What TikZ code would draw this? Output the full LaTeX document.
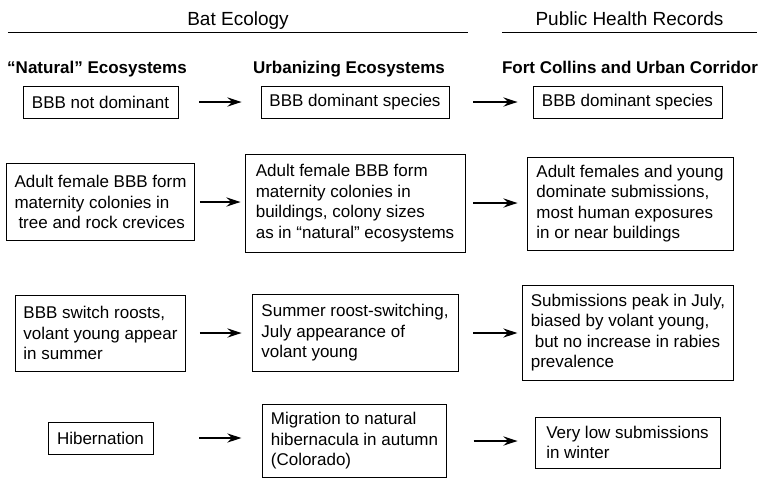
\documentclass[tikz,border=0pt]{standalone}
\usepackage{fontspec}
\setmainfont{Liberation Sans}
\usetikzlibrary{arrows.meta}

\begin{document}
\begin{tikzpicture}[x=1pt,y=-1pt,
  box/.style={draw,line width=0.8pt,align=left,inner xsep=8pt,inner ysep=6pt,font=\fontsize{17}{20.5}\selectfont},
  head/.style={font=\fontsize{19}{22}\selectfont,text height=14pt,text depth=4pt,inner ysep=3pt,anchor=base},
  colhead/.style={font=\bfseries\fontsize{17}{20}\selectfont,anchor=base},
  arr/.style={-{Stealth[length=14pt,width=9pt,inset=4.5pt]},line width=2.5pt}]
\useasboundingbox (0,0) rectangle (760,480);

\node[head,minimum width=460pt] (bat) at (238,25) {Bat Ecology};
\node[head,minimum width=255pt] (phr) at (629.5,25) {Public Health Records};
\draw[line width=1pt] (bat.south west) -- (bat.south east);
\draw[line width=1pt] (phr.south west) -- (phr.south east);

\node[colhead] (natural) at (97,73) {“Natural” Ecosystems};
\node[colhead] (urban) at (349,73) {Urbanizing Ecosystems};
\node[colhead] (fortc) at (630,73) {Fort Collins and Urban Corridor};

% row 1
\node[box,minimum width=155pt,minimum height=32pt] (nat1) at (100.5,102) {BBB not dominant};
\node[box,minimum width=188pt,minimum height=32pt] (urb1) at (355,102) {BBB dominant species};
\node[box,minimum width=189pt,minimum height=32pt] (rec1) at (627.5,102) {BBB dominant species};
% row 2
\node[box,minimum width=187pt,minimum height=77pt] (nat2) at (100.5,202) {Adult female BBB form\\maternity colonies in\\\hspace*{4pt}tree and rock crevices};
\node[box,minimum width=220pt,minimum height=98pt] (urb2) at (355,203) {Adult female BBB form\\maternity colonies in\\buildings, colony sizes\\as in “natural” ecosystems};
\node[box,minimum width=206pt,minimum height=93pt] (rec2) at (630,203.5) {Adult females and young\\dominate submissions,\\most human exposures\\in or near buildings};
% row 3
\node[box,minimum width=169pt,minimum height=76pt] (nat3) at (100.5,333) {BBB switch roosts,\\volant young appear\\in summer};
\node[box,minimum width=206pt,minimum height=77pt] (urb3) at (355,333) {Summer roost-switching,\\July appearance of\\volant young};
\node[box,minimum width=210pt,minimum height=95pt] (rec3) at (628,332.5) {Submissions peak in July,\\biased by volant young,\\\hspace*{4pt}but no increase in rabies\\prevalence};
% row 4
\node[box,minimum width=105pt,minimum height=32pt] (nat4) at (100.5,438) {Hibernation};
\node[box,minimum width=183pt,minimum height=73pt] (urb4) at (354.5,441) {Migration to natural\\hibernacula in autumn\\(Colorado)};
\node[box,minimum width=185pt,minimum height=51pt] (rec4) at (627.5,442.5) {Very low submissions\\in winter};

\draw[arr,shorten <=21pt,shorten >=19pt] (nat1.east) -- (nat1.east -| urb1.west);
\draw[arr,shorten <=24pt,shorten >=15pt] (urb1.east) -- (urb1.east -| rec1.west);
\draw[arr,shorten <=5pt,shorten >=4pt] (nat2.east) -- (nat2.east -| urb2.west);
\draw[arr,shorten <=8pt,shorten >=9pt] (urb2.east) -- (urb2.east -| rec2.west);
\draw[arr,shorten <=14pt,shorten >=10pt] (nat3.east) -- (nat3.east -| urb3.west);
\draw[arr,shorten <=15pt,shorten >=5pt] (urb3.east) -- (urb3.east -| rec3.west);
\draw[arr,shorten <=46pt,shorten >=21pt] (nat4.east) -- (nat4.east -| urb4.west);
\draw[arr,shorten <=27pt,shorten >=17pt] (urb4.east) -- (urb4.east -| rec4.west);

\end{tikzpicture}
\end{document}
